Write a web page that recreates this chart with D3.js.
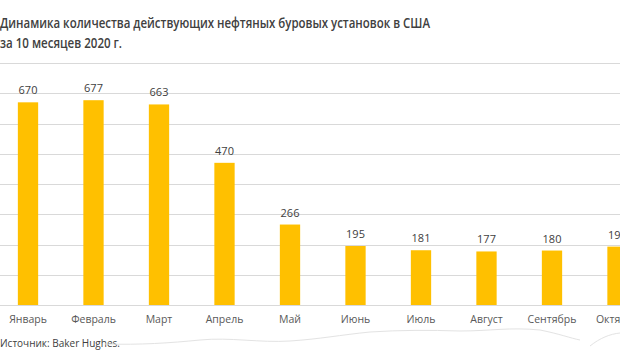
<!DOCTYPE html>
<html>
<head>
<meta charset="utf-8">
<script src="https://cdn.jsdelivr.net/npm/d3@7"></script>
<style>
  body { margin: 0; background: #fff; }
  text { font-family: "Open Sans", "Noto Sans", sans-serif; }
</style>
</head>
<body>
<div id="chart"></div>
<script>
const months = ["Январь", "Февраль", "Март", "Апрель", "Май", "Июнь", "Июль", "Август", "Сентябрь", "Октябрь"];
const rigs = [670, 677, 663, 470, 266, 195, 181, 177, 180, 193];
const gridValues = [0, 100, 200, 300, 400, 500, 600, 700, 800];
const titleLines = ["Динамика количества действующих нефтяных буровых установок в США", "за 10 месяцев 2020 г."];
const titleWidths = [430, 122];
const sourceText = "Источник: Baker Hughes.";

const svg = d3.select("#chart")
  .append("svg")
  .attr("width", 620)
  .attr("height", 364);

// шкалы
const x = d3.scaleBand()
  .domain(months)
  .range([-4.75, 650.25])
  .paddingInner(0.69)
  .paddingOuter(0.345);

const y = d3.scaleLinear()
  .domain([0, 800])
  .range([305, 63]);

// заголовок (шрифт типа Calibri, поэтому поджимаем по ширине)
svg.selectAll("text.title")
  .data(titleLines)
  .enter()
  .append("text")
  .attr("class", "title")
  .attr("x", 0)
  .attr("y", (d, i) => 28 + i * 20)
  .attr("textLength", (d, i) => titleWidths[i])
  .attr("lengthAdjust", "spacingAndGlyphs")
  .style("font-size", "14px")
  .style("font-weight", 600)
  .style("fill", "#404040")
  .text(d => d);

// сетка
svg.selectAll("line.hgrid")
  .data(gridValues)
  .enter()
  .append("line")
  .attr("class", "hgrid")
  .attr("x1", 0)
  .attr("x2", 620)
  .attr("y1", d => Math.round(y(d)) + 0.5)
  .attr("y2", d => Math.round(y(d)) + 0.5)
  .style("stroke", "#d9d9d9")
  .style("stroke-width", 1);

// столбцы
svg.selectAll("rect.bar")
  .data(rigs)
  .enter()
  .append("rect")
  .attr("class", "bar")
  .attr("x", (d, i) => x(months[i]))
  .attr("y", d => y(d))
  .attr("width", x.bandwidth())
  .attr("height", d => y(0) - y(d))
  .style("fill", "#ffc000");

// подписи значений
svg.selectAll("text.value")
  .data(rigs)
  .enter()
  .append("text")
  .attr("class", "value")
  .attr("x", (d, i) => x(months[i]) + x.bandwidth() / 2)
  .attr("y", d => y(d) - 8)
  .attr("text-anchor", "middle")
  .style("font-size", "11px")
  .style("fill", "#404040")
  .text(d => d);

// ось X
const xAxis = d3.axisBottom(x).tickSize(0).tickPadding(11);
const gx = svg.append("g")
  .attr("transform", `translate(0, ${y(0)})`)
  .call(xAxis);
gx.select(".domain").remove();
gx.selectAll("text")
  .style("font-size", "10.5px")
  .style("font-family", "\"Open Sans\", sans-serif")
  .style("fill", "#595959");

// источник
svg.append("text")
  .attr("x", 0)
  .attr("y", 347)
  .style("font-size", "10px")
  .style("fill", "#404040")
  .text(sourceText);

// рваный край
svg.append("path")
  .attr("d", "M105,344 C140,345 170,343 200,340 C230,337 260,343 290,341 C320,339 340,335 370,332 C400,330 430,330 460,331 C490,331 510,327 540,330 C560,334 570,338 580,340 M590,346 C600,338 610,334 620,333")
  .attr("fill", "none")
  .style("stroke", "#e3e3e3")
  .style("stroke-width", 1);
</script>
</body>
</html>
